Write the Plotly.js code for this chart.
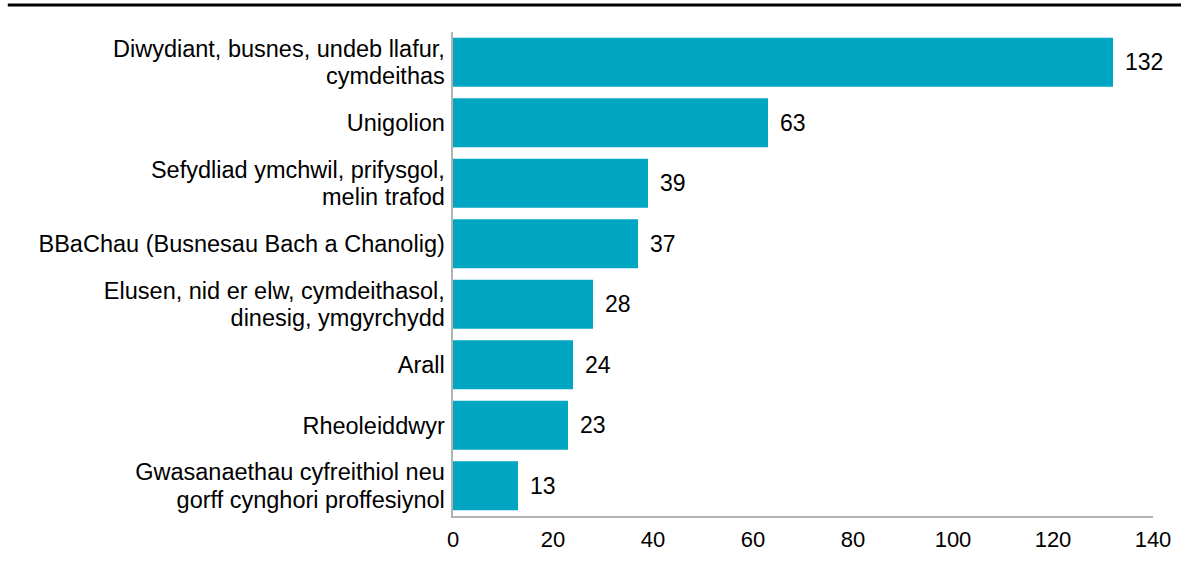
<!DOCTYPE html>
<html>
<head>
<meta charset="utf-8">
<script src="https://cdn.plot.ly/plotly-3.0.1.min.js"></script>
<style>
html,body{margin:0;padding:0;background:#fff;}
#chart{width:1181px;height:564px;}
</style>
</head>
<body>
<div id="chart"></div>
<script>
const categories = [
  "Diwydiant, busnes, undeb llafur, cymdeithas",
  "Unigolion",
  "Sefydliad ymchwil, prifysgol, melin trafod",
  "BBaChau (Busnesau Bach a Chanolig)",
  "Elusen, nid er elw, cymdeithasol, dinesig, ymgyrchydd",
  "Arall",
  "Rheoleiddwyr",
  "Gwasanaethau cyfreithiol neu gorff cynghori proffesiynol"
];
const categoryLines = [
  ["Diwydiant, busnes, undeb llafur,", "cymdeithas"],
  ["Unigolion"],
  ["Sefydliad ymchwil, prifysgol,", "melin trafod"],
  ["BBaChau (Busnesau Bach a Chanolig)"],
  ["Elusen, nid er elw, cymdeithasol,", "dinesig, ymgyrchydd"],
  ["Arall"],
  ["Rheoleiddwyr"],
  ["Gwasanaethau cyfreithiol neu", "gorff cynghori proffesiynol"]
];
const values = [132, 63, 39, 37, 28, 24, 23, 13];
const xTicks = [0, 20, 40, 60, 80, 100, 120, 140];

const FAM = "Liberation Sans, Arial, sans-serif";
const font = {family: FAM, size: 23, color: "#000"};

const tickText = categoryLines.map(lines =>
  lines.map(l => '<span style="font-size:23.5px">' + l + '</span>').join("<br>")
);

const trace = {
  type: "bar",
  orientation: "h",
  x: values,
  y: categories,
  marker: {color: "#00a6c2"},
  hoverinfo: "none"
};

const annotations = values.map((v, i) => ({
  x: v, y: categories[i], xref: "x", yref: "y",
  text: String(v), showarrow: false, xanchor: "left", yanchor: "middle",
  xshift: 10, font: font
}));

const layout = {
  width: 1181, height: 564,
  margin: {l: 453, r: 28, t: 32, b: 48},
  paper_bgcolor: "#fff", plot_bgcolor: "#fff",
  font: font,
  showlegend: false,
  bargap: 0.19,
  xaxis: {
    range: [0, 140], tickvals: xTicks, ticktext: xTicks.map(String),
    showgrid: false, zeroline: false, showline: true, linecolor: "#b3b3b3", linewidth: 2,
    ticks: "", ticklabelstandoff: 3, tickfont: {family: FAM, size: 22, color: "#000"}, fixedrange: true
  },
  yaxis: {
    autorange: "reversed", showgrid: false, zeroline: false,
    showline: true, linecolor: "#b3b3b3", linewidth: 2,
    tickvals: categories, ticktext: tickText,
    ticks: "", ticklabelstandoff: 2, ticklabelshift: -1,
    tickfont: {family: FAM, size: 21, color: "#000"}, fixedrange: true
  },
  annotations: annotations,
  shapes: [{
    type: "line", xref: "paper", yref: "paper",
    x0: -0.636, x1: 1.04, y0: 1.056, y1: 1.056,
    line: {color: "#000", width: 3}
  }]
};

Plotly.newPlot("chart", [trace], layout, {displayModeBar: false, staticPlot: true});
</script>
</body>
</html>
